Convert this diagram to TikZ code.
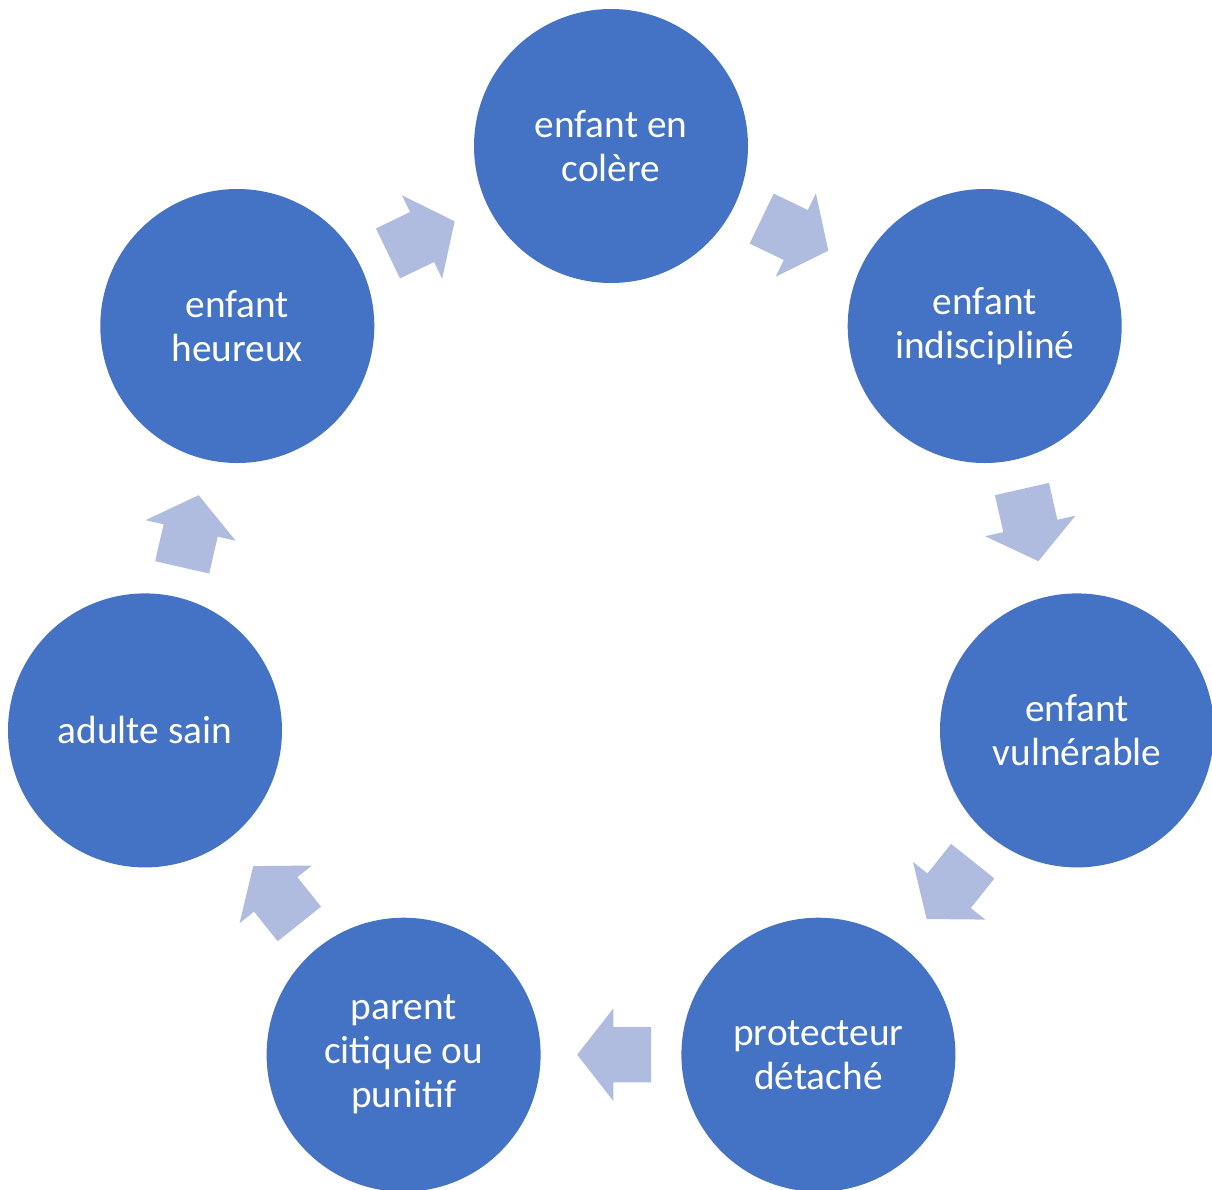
\documentclass[tikz,border=0pt]{standalone}
\usepackage{fontspec}
\setmainfont{Carlito}
\usetikzlibrary{shapes.arrows}

\definecolor{circleblue}{RGB}{68,114,196}
\definecolor{arrowblue}{RGB}{175,188,223}

\tikzset{
  state/.style={circle, fill=circleblue, draw=none, minimum size=205.5pt, inner sep=0pt,
    text=white, align=center, font=\fontsize{29.5}{33}\selectfont},
  blockarrow/.style={single arrow, fill=arrowblue, draw=none, inner xsep=0pt, inner ysep=20.6pt,
    minimum height=55.5pt, single arrow head extend=13.9pt,
    single arrow tip angle=104, sloped, allow upside down, xshift=-10.5pt}
}

\begin{document}
\begin{tikzpicture}[x=0.75pt,y=0.75pt]
\useasboundingbox (0,0) rectangle (1212,-1189); %same size as the diagram

%Shape: Circle [top]
\node [state] (colere) at (611,-146) {enfant en\\colère};
%Shape: Circle
\node [state] (indiscipline) at (984.7,-326) {enfant\\indiscipliné};
%Shape: Circle
\node [state] (vulnerable) at (1077,-730.4) {enfant\\vulnérable};
%Shape: Circle
\node [state] (detache) at (818.4,-1054.7) {protecteur\\détaché};
%Shape: Circle
\node [state] (punitif) at (403.6,-1054.7) {parent\\citique ou\\punitif};
%Shape: Circle
\node [state] (sain) at (145,-730.4) {adulte sain};
%Shape: Circle
\node [state] (heureux) at (237.3,-326) {enfant\\heureux};

%Block Arrows
\path (colere) -- node [blockarrow] (a1) {} (indiscipline);
\path (indiscipline) -- node [blockarrow] (a2) {} (vulnerable);
\path (vulnerable) -- node [blockarrow] (a3) {} (detache);
\path (detache) -- node [blockarrow] (a4) {} (punitif);
\path (punitif) -- node [blockarrow] (a5) {} (sain);
\path (sain) -- node [blockarrow] (a6) {} (heureux);
\path (heureux) -- node [blockarrow] (a7) {} (colere);

\end{tikzpicture}
\end{document}
